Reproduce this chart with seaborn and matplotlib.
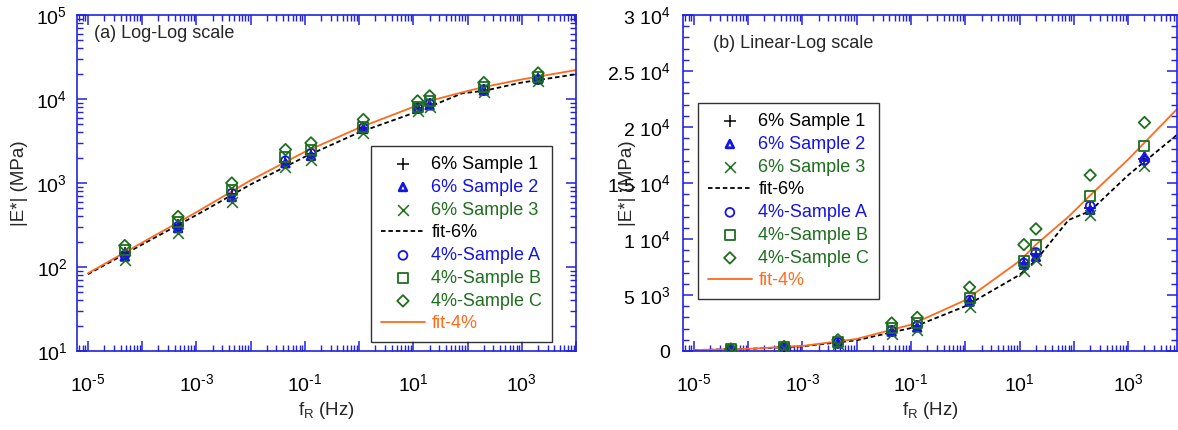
import matplotlib
matplotlib.use("Agg")
import matplotlib.pyplot as plt
from matplotlib.ticker import LogLocator, MultipleLocator, FuncFormatter, NullFormatter
import seaborn as sns
import pandas as pd
import numpy as np

# Reduced frequency (Hz) of the measured points
freq = [4.8e-5, 4.6e-4, 4.5e-3, 4.4e-2, 0.13, 1.2, 12, 20, 200, 2000]

# Dynamic modulus |E*| (MPa) per sample
s6_1 = [145, 315, 740, 1800, 2200, 4500, 7900, 8700, 12800, 17100]
s6_2 = [133, 290, 680, 1720, 2100, 4400, 7700, 8400, 12600, 17350]
s6_3 = [122, 255, 600, 1550, 1880, 3950, 7150, 8100, 12150, 16550]
s4_a = [139, 305, 755, 1840, 2260, 4550, 7850, 8800, 12950, 17050]
s4_b = [158, 345, 825, 2050, 2470, 4700, 8000, 9450, 13800, 18300]
s4_c = [180, 400, 1000, 2500, 3000, 5700, 9500, 10900, 15700, 20400]

# Master-curve fits
fit_freq = [1e-5, 1e-4, 1e-3, 1e-2, 1e-1, 1, 10, 20, 80, 200, 1000, 1e4]
fit_6 = [82, 185, 415, 960, 2050, 4000, 6800, 8100, 11700, 12500, 15700, 19700]
fit_4 = [84, 195, 449, 1075, 2350, 4540, 8040, 9500, 12000, 13900, 17100, 22100]

BLUE = "#1414e6"
GREEN = "#1e6e1e"
ORANGE = "#ff6a1c"
AXBLUE = "#2222dd"

samples = [
    ("6% Sample 1", s6_1, "+", "k", False, 75),
    ("6% Sample 2", s6_2, "^", BLUE, True, 30),
    ("6% Sample 3", s6_3, "x", GREEN, False, 60),
    ("4%-Sample A", s4_a, "o", BLUE, True, 40),
    ("4%-Sample B", s4_b, "s", GREEN, True, 52),
    ("4%-Sample C", s4_c, "D", GREEN, True, 34),
]

sns.set_style("white")
plt.rcParams["font.family"] = ["Liberation Sans", "DejaVu Sans"]
plt.rcParams["mathtext.fontset"] = "custom"
plt.rcParams["mathtext.rm"] = "Liberation Sans"
plt.rcParams["mathtext.it"] = "Liberation Sans:italic"
plt.rcParams["mathtext.bf"] = "Liberation Sans:bold"

fig = plt.figure(figsize=(11.78, 4.30), dpi=100)
ax1 = fig.add_axes([77 / 1178, 79 / 430, 499 / 1178, 336 / 430])
ax2 = fig.add_axes([683 / 1178, 79 / 430, 494 / 1178, 336 / 430])

fit_df = pd.DataFrame({"f": fit_freq, "fit6": fit_6, "fit4": fit_4})


def pow10(e):
    # power-of-ten label with a plain hyphen for negative exponents
    if e < 0:
        return r"10$^{\text{-}%d}$" % (-e)
    return r"10$^{%d}$" % e


def draw(ax):
    handles = {}
    for label, vals, mk, col, filled, size in samples:
        df = pd.DataFrame({"f": freq, "E": vals})
        if filled:
            sns.scatterplot(data=df, x="f", y="E", marker=mk, s=size,
                            facecolors="none", edgecolor=col,
                            linewidth=1.3 if mk != "^" else 2.0,
                            ax=ax, zorder=3, label=label)
        else:
            sns.scatterplot(data=df, x="f", y="E", marker=mk, s=size,
                            color=col, linewidth=1.1, ax=ax, zorder=3, label=label)
    sns.lineplot(data=fit_df, x="f", y="fit6", color="k", lw=1.3,
                 ax=ax, zorder=2, label="fit-6%", sort=False)
    sns.lineplot(data=fit_df, x="f", y="fit4", color=ORANGE, lw=1.3,
                 ax=ax, zorder=2, label="fit-4%", sort=False)
    ax.lines[0].set_dashes((2.5, 1.6))
    h, l = ax.get_legend_handles_labels()
    for hh, ll in zip(h, l):
        handles[ll] = hh
    order = ["6% Sample 1", "6% Sample 2", "6% Sample 3", "fit-6%",
             "4%-Sample A", "4%-Sample B", "4%-Sample C", "fit-4%"]
    colors = ["k", BLUE, GREEN, "k", BLUE, GREEN, GREEN, ORANGE]
    return [handles[o] for o in order], order, colors


def style(ax):
    ax.set_xscale("log")
    ax.xaxis.set_major_locator(LogLocator(base=10, numticks=20))
    ax.xaxis.set_minor_locator(LogLocator(base=10, subs=np.arange(2, 10), numticks=200))
    ax.xaxis.set_minor_formatter(NullFormatter())

    def xfmt(v, pos):
        e = int(round(np.log10(v)))
        if e % 2 == 0 or e < -5 or e > 3:
            return ""
        return pow10(e)
    ax.xaxis.set_major_formatter(FuncFormatter(xfmt))
    for sp in ax.spines.values():
        sp.set_color(AXBLUE)
        sp.set_linewidth(1.2)
    ax.tick_params(which="both", direction="in", top=True, right=True,
                   bottom=True, left=True,
                   colors=AXBLUE, labelcolor="black", labelsize=14)
    ax.tick_params(which="major", length=7.5, width=1.1)
    ax.tick_params(which="minor", length=4.2, width=1.0)
    ax.tick_params(axis="x", which="both", pad=16)
    ax.set_xlabel(r"f$_\mathrm{R}$ (Hz)", fontsize=13.5)
    ax.set_ylabel("|E*| (MPa)", fontsize=13.5)
    ax.xaxis.set_label_coords(0.5, -0.145)


def legend(ax, h, l, c, anchor):
    leg = ax.legend(h, l, loc="upper left", bbox_to_anchor=anchor, fontsize=13,
                    frameon=True, fancybox=False, edgecolor="black",
                    handlelength=2.45, handletextpad=0.35, labelspacing=0.32,
                    borderpad=0.55, borderaxespad=0)
    leg.get_frame().set_linewidth(1.0)
    for t, col in zip(leg.get_texts(), c):
        t.set_color(col)
    return leg


# (a) log-log
h, l, c = draw(ax1)
style(ax1)
ax1.set_yscale("log")
ax1.set_xlim(10 ** -5.2, 1e4)
ax1.set_ylim(10, 1e5)
ax1.yaxis.set_major_locator(LogLocator(base=10, numticks=10))
ax1.yaxis.set_minor_locator(LogLocator(base=10, subs=np.arange(2, 10), numticks=100))
ax1.yaxis.set_minor_formatter(NullFormatter())
ax1.yaxis.set_major_formatter(FuncFormatter(
    lambda v, p: pow10(int(round(np.log10(v)))) if 10 <= v <= 1e5 else ""))
ax1.tick_params(axis="y", which="both", pad=7)
ax1.yaxis.set_label_coords(-0.098, 0.5)
legend(ax1, h, l, c, (0.589, 0.61))
ax1.text(0.035, 0.945, "(a) Log-Log scale", transform=ax1.transAxes, fontsize=13,
         va="center", ha="left")

# (b) linear-log
h, l, c = draw(ax2)
style(ax2)
ax2.set_xlim(10 ** -5.2, 10 ** 3.9)
ax2.set_ylim(0, 30000)
ax2.yaxis.set_major_locator(MultipleLocator(5000))
ax2.yaxis.set_minor_locator(MultipleLocator(1000))
ylab = {0: "0", 5000: r"5 10$^{3}$", 10000: r"1 10$^{4}$", 15000: r"1.5 10$^{4}$",
        20000: r"2 10$^{4}$", 25000: r"2.5 10$^{4}$", 30000: r"3 10$^{4}$"}
ax2.yaxis.set_major_formatter(FuncFormatter(lambda v, p: ylab.get(int(round(v)), "")))
ax2.tick_params(axis="y", which="both", pad=9)
ax2.yaxis.set_label_coords(-0.095, 0.5)
legend(ax2, h, l, c, (0.030, 0.738))
ax2.text(0.06, 0.915, "(b) Linear-Log scale", transform=ax2.transAxes, fontsize=13,
         va="center", ha="left")

fig.savefig("out.png", dpi=100)
